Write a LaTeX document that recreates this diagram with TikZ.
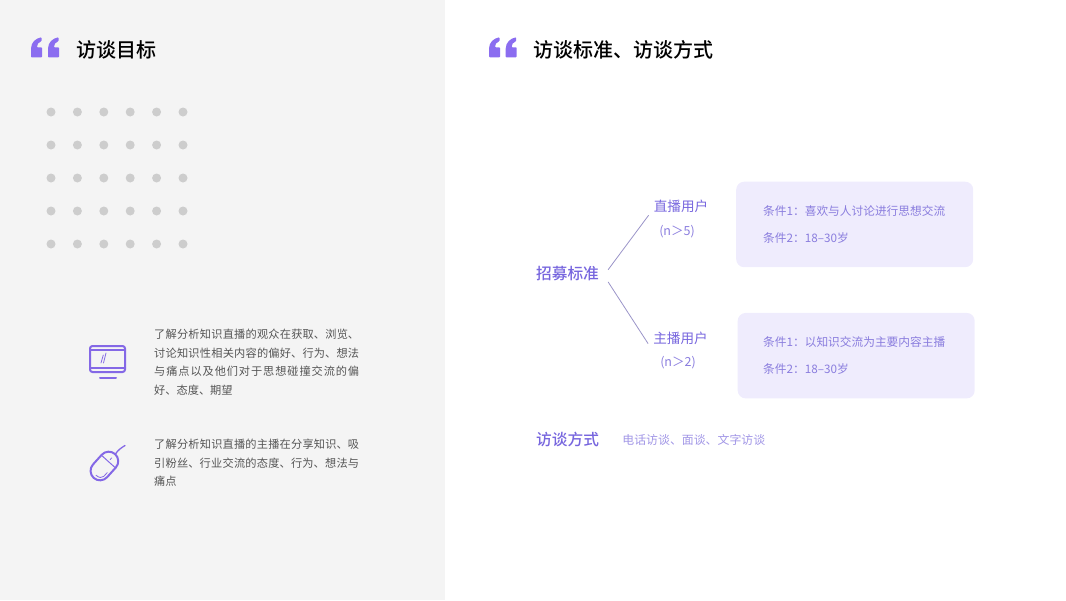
\documentclass[tikz,border=0pt]{standalone}
\usepackage{fontspec}
\setmainfont{Noto Sans CJK SC}[BoldFont=Noto Sans CJK SC Medium]
\XeTeXlinebreaklocale "zh"
\XeTeXlinebreakskip=0pt plus 2pt
\usetikzlibrary{positioning}
\definecolor{quotepurple}{HTML}{8B6DF0}
\definecolor{iconpurple}{HTML}{8468E6}
\definecolor{labelpurple}{HTML}{7766DE}
\definecolor{condpurple}{HTML}{8A7DDE}
\definecolor{waypurple}{HTML}{A196E6}
\definecolor{boxfill}{HTML}{EFECFD}
\definecolor{panelgray}{HTML}{F4F4F4}
\definecolor{dotgray}{HTML}{CDCDCD}
\definecolor{bodygray}{HTML}{555555}
\definecolor{linegray}{HTML}{9A94C8}
\begin{document}
\begin{tikzpicture}[
  x=1pt, y=-1pt,
  title/.style={anchor=west, inner sep=0pt, font=\fontsize{20}{24}\selectfont\bfseries, text=black},
  body/.style={anchor=north west, inner sep=0pt, text width=205pt, align=justify,
               font=\fontsize{11.2}{18.6}\selectfont, text=bodygray},
  heading/.style={inner sep=0pt, font=\fontsize{15.7}{20}\selectfont\bfseries, text=labelpurple},
  usernode/.style={inner xsep=5pt, inner ysep=0pt, minimum height=20pt,
                   font=\fontsize{13.6}{16}\selectfont, text=labelpurple},
  countnode/.style={inner sep=0pt, font=\fontsize{12.5}{16}\selectfont, text=condpurple},
  condbox/.style={anchor=north west, fill=boxfill, rounded corners=8pt, text width=183pt,
                  minimum height=85.5pt, inner xsep=27pt, inner ysep=0pt, align=left,
                  font=\fontsize{11.7}{27.5}\selectfont, text=condpurple},
  branch/.style={draw=linegray, line width=0.8pt},
  icon/.style={draw=iconpurple, line width=2pt, line cap=round, line join=round},
  quotemark/.pic={
    \fill[quotepurple, rounded corners=0.8pt] (0,20) -- (0,12) .. controls (0,5) and (5,1) .. (10.5,0)
      -- (10.5,4) .. controls (7.5,5) and (6,7) .. (6,10) -- (11,10) -- (11,20) -- cycle;
  }
]
\useasboundingbox (0,0) rectangle (1066,600);
\fill[panelgray] (0,0) rectangle (445,600);
% left side
\pic at (31,37.3) {quotemark};
\pic at (48,37.3) {quotemark};
\node[title] (goal) at (76,50) {访谈目标};
\foreach \x in {51,77.4,103.8,130.2,156.6,183}
  \foreach \y in {112,145,178,211,244}
    \fill[dotgray] (\x,\y) circle (4.5);
\node[body] (goalone) at (154,329) {了解分析知识直播的观众在获取、浏览、\linebreak 讨论知识性相关内容的偏好、行为、想法\linebreak 与痛点以及他们对于思想碰撞交流的偏\linebreak 好、态度、期望};
\node[body] (goaltwo) at (154,439) {了解分析知识直播的主播在分享知识、吸\linebreak 引粉丝、行业交流的态度、行为、想法与\linebreak 痛点};
% monitor
\draw[icon, rounded corners=2.5pt] (90,346) rectangle (125,372);
\draw[icon] (90,350) -- (125,350);
\draw[icon] (90,367.5) -- (125,367.5);
\draw[icon] (100,378) -- (116,378);
\draw[icon, line width=0.8pt] (101,363) -- (103.3,355);
\draw[icon, line width=0.8pt] (103.5,363) -- (106,353);
% mouse
\begin{scope}[shift={(104.4,466)}, rotate=48]
  \draw[icon, rounded corners=9.5pt] (-16,-9.5) rectangle (16,9.5);
  \draw[icon, line width=1pt] (6,-9.5) -- (6,9.5);
  \draw[icon, line width=0.8pt] (8.5,0) -- (11,0);
  \draw[icon, line width=0.8pt] (-3,6.5) -- (-8,6.5) .. controls (-10.5,6.5) and (-12.5,4) .. (-12.5,0);
\end{scope}
\draw[icon, line width=1.3pt] (115.5,454) .. controls (118,450) and (121,448) .. (125,445.5);
% right side
\pic at (489,37.3) {quotemark};
\pic at (505.7,37.3) {quotemark};
\node[title] (method) at (533,50) {访谈标准、访谈方式};
% recruit tree
\node[heading, inner xsep=9pt, minimum height=16pt] (recruit) at (567.5,274) {招募标准};
\node[usernode] (live) at (681,206) {直播用户};
\node[countnode] (livecount) at (677,232) {(n＞5)};
\node[usernode] (host) at (680.5,338.5) {主播用户};
\node[countnode] (hostcount) at (678,363) {(n＞2)};
\draw[branch] (recruit.6) -- (live.196);
\draw[branch] (recruit.-11) -- (host.189);
\node[condbox] (liveconds) at (736,181.5) {条件1：喜欢与人讨论进行思想交流\\条件2：18–30岁};
\node[condbox, text width=186pt, inner xsep=25.5pt] (hostconds) at (737.5,312.7) {条件1：以知识交流为主要内容主播\\条件2：18–30岁};
% interview way
\node[heading, anchor=west] (way) at (536,439.5) {访谈方式};
\node[inner sep=0pt, font=\fontsize{11.9}{14}\selectfont, text=waypurple, right=23pt of way] (waylist) {电话访谈、面谈、文字访谈};
\end{tikzpicture}
\end{document}
